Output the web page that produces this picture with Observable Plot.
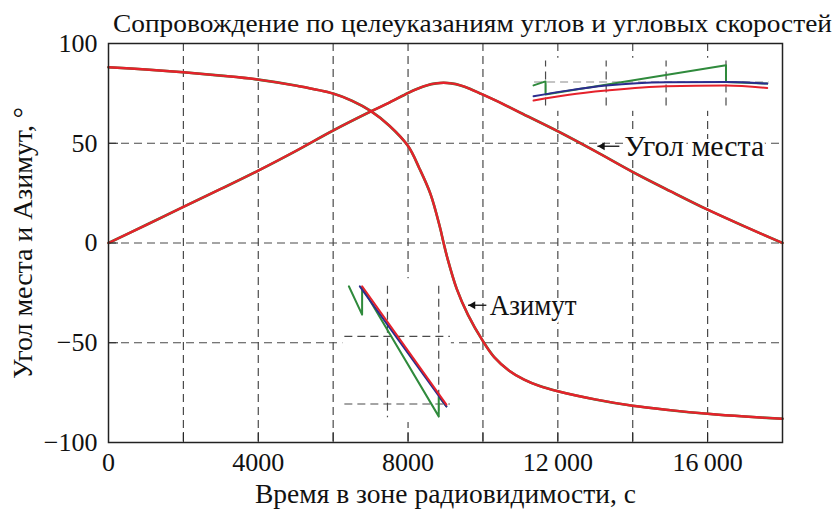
<!DOCTYPE html>
<html><head><meta charset="utf-8">
<script src="https://cdn.jsdelivr.net/npm/d3@7"></script>
<script src="https://cdn.jsdelivr.net/npm/@observablehq/plot@0.6"></script>
<style>body{margin:0;background:#fff} svg{display:block}</style>
</head><body><div id="chart"></div>
<script>
// ---- Data ----
const titleText = "Сопровождение по целеуказаниям углов и угловых скоростей";
const xLabelText = "Время в зоне радиовидимости, с";
const yLabelText = "Угол места и Азимут, °";

const xTickLabels = [0, 4000, 8000, 12000, 16000];
const xTickMarks = [0, 2000, 4000, 6000, 8000, 10000, 12000, 14000, 16000, 18000];
const yTickLabels = [-100, -50, 0, 50, 100];
const gridX = [2000, 4000, 6000, 8000, 10000, 12000, 14000, 16000];
const gridY = [-50, 0, 50];

// elevation (Угол места)
const tElev = [0,1000,2000,3000,4000,5000,6000,7000,7500,8000,8250,8500,8750,8950,9150,9400,9650,9900,10500,11000,12000,13000,14000,15000,16000,17000,18000];
const elev  = [0,9.0,18.1,27.1,36.3,46.1,56.4,65.9,70.4,75.2,77.3,79.0,80.0,80.3,80.0,79.0,77.3,75.2,70.0,65.3,56.0,46.0,35.6,26.0,16.7,8.2,0];

// azimuth (Азимут)
const tAz = [0,1000,2000,3000,4000,5000,6000,6500,7000,7500,8000,8300,8600,8850,8950,9050,9300,9600,10000,10300,10700,11100,11500,12000,13000,14000,15000,16000,17000,18000];
const az  = [88.1,87.0,85.6,83.9,81.9,78.9,74.9,71.3,66.2,58.8,48.6,37.5,24.5,8.0,0,-7.5,-23.0,-36.0,-49.2,-57.2,-64.0,-68.5,-71.6,-74.3,-78.4,-81.6,-83.8,-85.6,-87.0,-88.1];

// inset boxes (white background)
const boxX1 = [11300, 6259];
const boxX2 = [17700, 9157];
const boxY1 = [66.0, -90.0];
const boxY2 = [92.6, -17.9];

// inset 1 (upper right)
const in1GridX = [11672, 13291, 14891, 16491];
const in1GridYRange = [68.7, 91.2];
const in1GridY = [80.7];
const in1GridXRange = [11379, 17645];
const in1GreenT = [11352, 11672, 11672, 16491, 16491, 17592];
const in1GreenV = [79.0, 81.0, 74.4, 89.1, 80.7, 79.9];
const in1BlueT = [11352, 12300, 13291, 14891, 16491, 17592];
const in1BlueV = [73.6, 76.5, 78.9, 80.6, 80.7, 79.9];
const in1RedT = [11352, 12300, 13291, 14891, 16491, 17592];
const in1RedV = [71.4, 74.3, 76.4, 78.6, 78.9, 77.7];

// inset 2 (lower middle)
const in2GridX = [7450, 8819];
const in2GridYRange = [-21.7, -87.6];
const in2GridY = [-46.8, -80.7];
const in2GridXRange = [6312, 9130];
const in2GreenT = [6419, 6773, 6773, 8819, 8819, 9024];
const in2GreenV = [-21.7, -35.9, -22.2, -86.9, -76.9, -81.9];
const in2BlueT = [6712, 9024];
const in2BlueV = [-21.7, -81.9];
const in2RedT = [6773, 9024];
const in2RedV = [-21.7, -81.0];

// annotations
const annText = ["Угол места", "Азимут"];
const annTextX = [13776, 10179];
const annTextLen = [140, 87];
const annArrowX1 = [13643, 10091];
const annArrowX2 = [13056, 9600];
const annY = [48.5, -31.2];

// ---- build ----
const zip = (t, v) => t.map((d, i) => ({t: d, v: v[i]}));
const RED = "#e5222b", BLUE = "#2b2c8e", GREEN = "#2f8a3c";
const boxes = boxX1.map((d, i) => ({x1: d, x2: boxX2[i], y1: boxY1[i], y2: boxY2[i]}));
const ann = annText.map((d, i) => ({text: d, tx: annTextX[i], x1: annArrowX1[i], x2: annArrowX2[i], y: annY[i]}));
const dash = {stroke: "#4a4a4a", strokeOpacity: 1, strokeDasharray: "8,5", strokeWidth: 1.2};
const dashLight = {stroke: "#8a8a8a", strokeOpacity: 1, strokeDasharray: "8,5", strokeWidth: 1.2};
const FONT = '"Liberation Serif", "DejaVu Serif", serif';

const chart = Plot.plot({
  width: 838, height: 510,
  marginLeft: 108, marginRight: 56, marginTop: 43, marginBottom: 68,
  style: {fontFamily: FONT, fontSize: "26px", color: "#111", background: "#fff"},
  x: {domain: [0, 18000]},
  y: {domain: [-100, 100]},
  marks: [
    Plot.gridX(gridX, dash),
    Plot.gridY(gridY, dash),
    Plot.rect(boxes, {x1: "x1", x2: "x2", y1: "y1", y2: "y2", fill: "white"}),
    // inset 1
    Plot.ruleX(in1GridX, {x: d => d, y1: in1GridYRange[0], y2: in1GridYRange[1], ...dash}),
    Plot.ruleY(in1GridY, {y: d => d, x1: in1GridXRange[0], x2: in1GridXRange[1], ...dashLight}),
    Plot.line(zip(in1GreenT, in1GreenV), {x: "t", y: "v", stroke: GREEN, strokeWidth: 2}),
    Plot.line(zip(in1BlueT, in1BlueV), {x: "t", y: "v", stroke: BLUE, strokeWidth: 2, curve: "monotone-x"}),
    Plot.line(zip(in1RedT, in1RedV), {x: "t", y: "v", stroke: RED, strokeWidth: 2, curve: "monotone-x"}),
    // inset 2
    Plot.ruleX(in2GridX, {x: d => d, y1: in2GridYRange[0], y2: in2GridYRange[1], ...dash}),
    Plot.ruleY(in2GridY, {y: d => d, x1: in2GridXRange[0], x2: in2GridXRange[1], ...dash}),
    Plot.line(zip(in2GreenT, in2GreenV), {x: "t", y: "v", stroke: GREEN, strokeWidth: 2}),
    Plot.line(zip(in2BlueT, in2BlueV), {x: "t", y: "v", stroke: BLUE, strokeWidth: 2}),
    Plot.line(zip(in2RedT, in2RedV), {x: "t", y: "v", stroke: RED, strokeWidth: 2}),
    // main curves
    Plot.line(zip(tElev, elev), {x: "t", y: "v", stroke: GREEN, strokeWidth: 2.6, curve: "catmull-rom"}),
    Plot.line(zip(tAz, az), {x: "t", y: "v", stroke: GREEN, strokeWidth: 2.6, curve: "catmull-rom"}),
    Plot.line(zip(tElev, elev), {x: "t", y: "v", stroke: RED, strokeWidth: 2.4, curve: "catmull-rom"}),
    Plot.line(zip(tAz, az), {x: "t", y: "v", stroke: RED, strokeWidth: 2.4, curve: "catmull-rom"}),
    // annotations
    Plot.text(ann, {x: "tx", y: "y", text: "text", textAnchor: "start", fontSize: 29, fill: "#111",
      stroke: "white", strokeWidth: 6}),
    Plot.link(ann, {x1: "x1", x2: "x2", y1: "y", y2: "y", stroke: "#111", strokeWidth: 1.3}),
    Plot.dot(ann, {x: "x2", y: "y", symbol: "triangle2", rotate: -90, r: 3.8, fill: "#111", dx: 5}),
    // axes
    Plot.axisX(xTickLabels, {tickSize: 0, tickPadding: 10, fontSize: 26, label: null,
      tickFormat: d => d >= 10000 ? String(d).replace(/(\d{3})$/, "\u2009$1") : String(d)}),
    Plot.axisX(xTickMarks, {tickSize: -10, fill: "none", label: null, stroke: "#222"}),
    Plot.axisY(yTickLabels, {tickSize: 0, tickPadding: 11, fontSize: 26, label: null,
      tickFormat: d => d < 0 ? "\u2212" + Math.abs(d) : String(d)}),
    Plot.axisY(yTickLabels, {tickSize: -10, fill: "none", label: null, stroke: "#222"}),
    Plot.frame({stroke: "#222", strokeWidth: 1.5}),
    // titles
    Plot.text([titleText], {frameAnchor: "top", lineAnchor: "middle", textAnchor: "middle", dy: -20, dx: 27, text: d => d, fontSize: 26}),
    Plot.text([xLabelText], {frameAnchor: "bottom", lineAnchor: "middle", textAnchor: "middle", dy: 52, text: d => d, fontSize: 27}),
    Plot.text([yLabelText], {frameAnchor: "left", lineAnchor: "middle", textAnchor: "middle", dx: -85, rotate: -90, text: d => d, fontSize: 28})
  ]
});
document.getElementById("chart").appendChild(chart);
// fit the condensed text widths of the reference
const fit = {[titleText]: 719, [xLabelText]: 381, [yLabelText]: 272};
annText.forEach((t, i) => fit[t] = annTextLen[i]);
for (const t of chart.querySelectorAll("text")) {
  const L = fit[t.textContent];
  if (L) {
    t.setAttribute("textLength", L);
    t.setAttribute("lengthAdjust", "spacingAndGlyphs");
  }
}
</script>
</body></html>
